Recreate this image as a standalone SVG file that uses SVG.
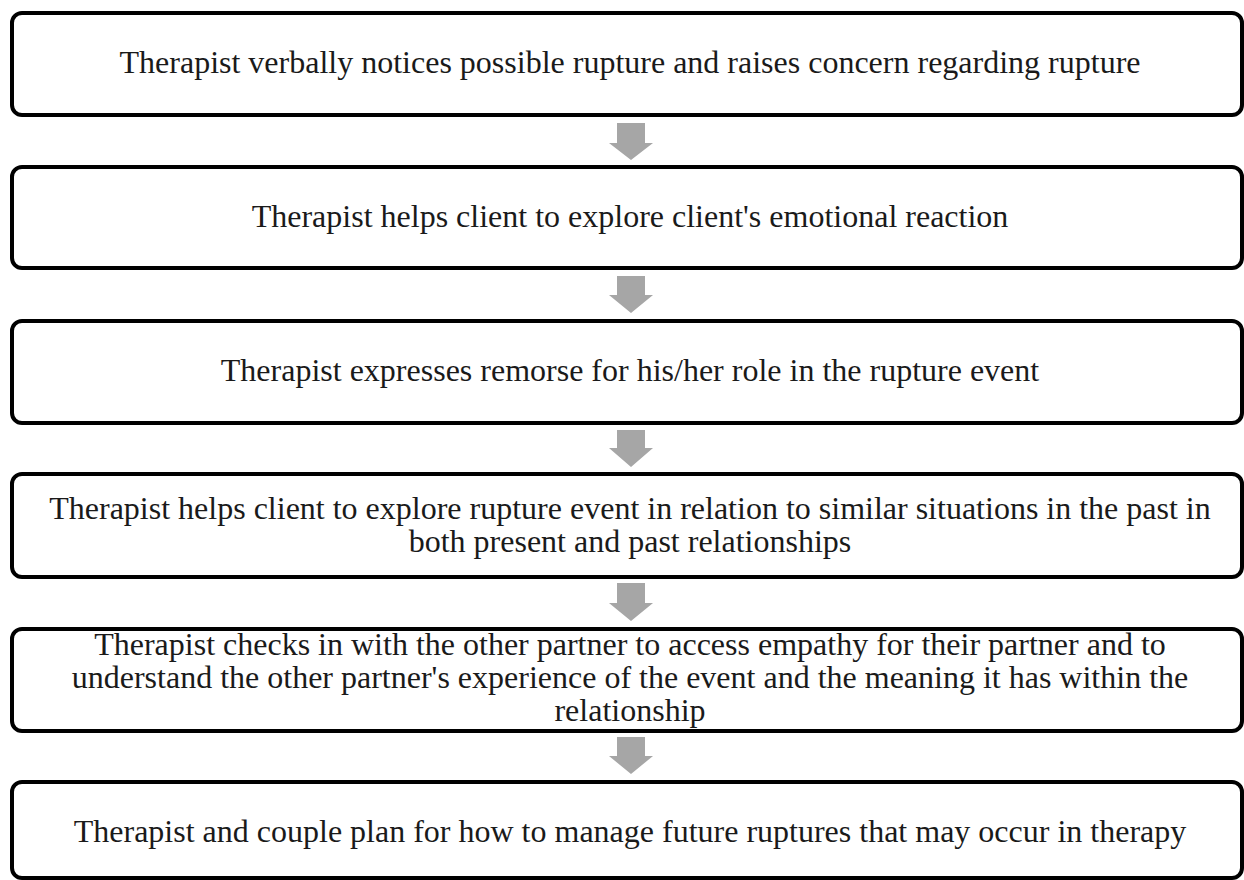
<svg xmlns="http://www.w3.org/2000/svg" width="1244" height="880" viewBox="0 0 1244 880">
<style>
.box{fill:#ffffff;stroke:#000000;stroke-width:4}
.lbl{font-family:"Liberation Serif","Times New Roman",serif;font-size:32px;fill:#1a1a1a;text-anchor:middle}
.arr{fill:#a6a6a6}
</style>
<rect width="1244" height="880" fill="#ffffff"/>
<g id="connectors">
<path class="arr" d="M617,123 H645 V143 H653 L631,160 L609,143 H617 Z"/>
<path class="arr" d="M617,276 H645 V295 H653 L631,313 L609,295 H617 Z"/>
<path class="arr" d="M617,430 H645 V448 H653 L631,467 L609,448 H617 Z"/>
<path class="arr" d="M617,583 H645 V603 H653 L631,621 L609,603 H617 Z"/>
<path class="arr" d="M617,737 H645 V756 H653 L631,774 L609,756 H617 Z"/>
</g>
<g id="node1">
<rect class="box" x="12" y="13" width="1230" height="102" rx="10"/>
<text class="lbl" x="630" y="73">Therapist verbally notices possible rupture and raises concern regarding rupture</text>
</g>
<g id="node2">
<rect class="box" x="12" y="167" width="1230" height="101" rx="10"/>
<text class="lbl" x="630" y="227">Therapist helps client to explore client's emotional reaction</text>
</g>
<g id="node3">
<rect class="box" x="12" y="321" width="1230" height="102" rx="10"/>
<text class="lbl" x="630" y="381">Therapist expresses remorse for his/her role in the rupture event</text>
</g>
<g id="node4">
<rect class="box" x="12" y="474" width="1230" height="103" rx="10"/>
<text class="lbl" x="630" y="519">Therapist helps client to explore rupture event in relation to similar situations in the past in</text>
<text class="lbl" x="630" y="552">both present and past relationships</text>
</g>
<g id="node5">
<rect class="box" x="12" y="629" width="1230" height="102" rx="10"/>
<text class="lbl" x="630" y="655">Therapist checks in with the other partner to access empathy for their partner and to</text>
<text class="lbl" x="630" y="688">understand the other partner's experience of the event and the meaning it has within the</text>
<text class="lbl" x="630" y="721">relationship</text>
</g>
<g id="node6">
<rect class="box" x="12" y="782" width="1230" height="96" rx="10"/>
<text class="lbl" x="630" y="842">Therapist and couple plan for how to manage future ruptures that may occur in therapy</text>
</g>
</svg>
